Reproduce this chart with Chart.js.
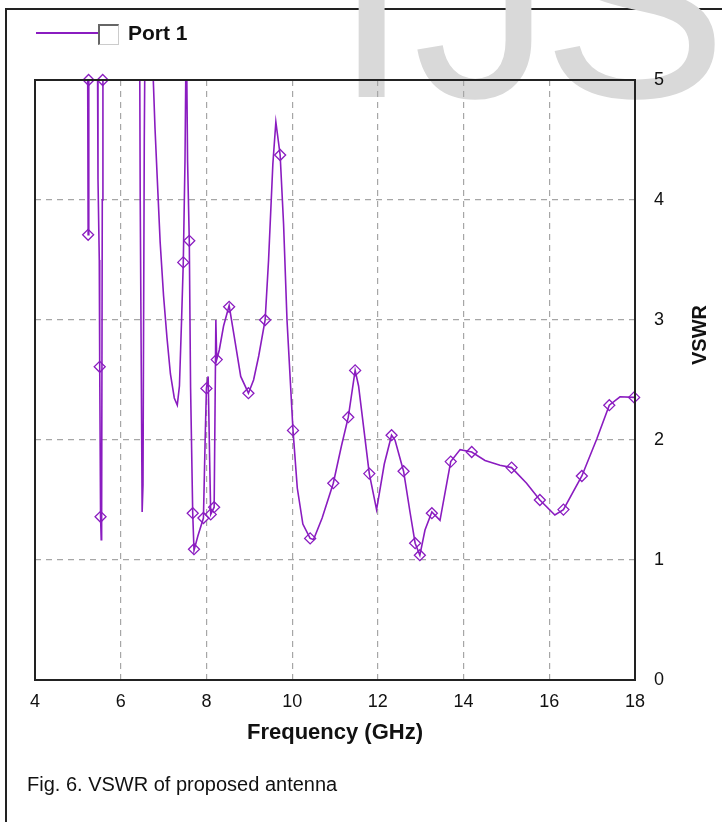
<!DOCTYPE html>
<html>
<head>
<meta charset="utf-8">
<script src="https://cdn.jsdelivr.net/npm/chart.js@4.4.1/dist/chart.umd.min.js"></script>
<style>
  html, body { margin: 0; padding: 0; background: #fff; }
  #wrap { position: relative; width: 722px; height: 822px; overflow: hidden;
          font-family: "Liberation Sans", Arial, sans-serif; }
  #frame { position: absolute; left: 5px; top: 8px; width: 760px; height: 860px;
           border-left: 2px solid #222; border-top: 2px solid #222; }
  .wm { position: absolute; top: -138px; font-size: 278px; line-height: 1; color: #d9d9d9; }
  #chart { position: absolute; left: 0; top: 0; }
  #legLine { position: absolute; left: 36px; top: 32px; width: 62px; height: 2px; background: #8a1cc0; }
  #legBox { position: absolute; left: 98px; top: 24px; width: 18px; height: 18px; background: #fff;
            border-top: 2px solid #666; border-left: 2px solid #666;
            border-right: 1px solid #ccc; border-bottom: 1px solid #ccc; }
  #legText { position: absolute; left: 128px; top: 21px; font-size: 21px; font-weight: bold; color: #111; }
  #caption { position: absolute; left: 27px; top: 773px; font-size: 20px; color: #111; }
</style>
</head>
<body>
<div id="wrap">
  <div id="frame"></div>
  <span class="wm" style="left:333px">I</span>
  <span class="wm" style="left:413px">J</span>
  <span class="wm" style="left:542px">S</span>
  <canvas id="chart" width="722" height="822"></canvas>
  <div id="legLine"></div>
  <div id="legBox"></div>
  <div id="legText">Port 1</div>
  <div id="caption">Fig. 6. VSWR of proposed antenna</div>
</div>
<script>
// frequency sweep (GHz) and VSWR; values above 5 run off the top
const freqGHz = [4.0, 5.20, 5.225, 5.24, 5.255, 5.28, 5.44, 5.455, 5.47, 5.50, 5.51, 5.53, 5.545, 5.555,
  5.57, 5.585, 5.61, 6.40, 6.44, 6.455, 6.50, 6.52, 6.55, 6.57, 6.60, 6.70, 6.76, 6.80, 6.85, 6.92,
  7.00, 7.08, 7.16, 7.25, 7.32, 7.37, 7.42, 7.46, 7.50, 7.53, 7.56, 7.60, 7.63, 7.68, 7.71, 7.80,
  7.93, 7.97, 8.00, 8.04, 8.08, 8.10, 8.18, 8.22, 8.24, 8.30, 8.40, 8.53, 8.65, 8.80, 8.98, 9.10,
  9.22, 9.37, 9.45, 9.55, 9.62, 9.72, 9.80, 9.88, 10.02, 10.12, 10.25, 10.42, 10.50, 10.70, 10.96,
  11.15, 11.31, 11.47, 11.55, 11.80, 11.97, 12.15, 12.32, 12.40, 12.60, 12.75, 12.87, 12.98, 13.10,
  13.26, 13.45, 13.70, 13.92, 14.19, 14.50, 14.85, 15.12, 15.47, 15.78, 16.13, 16.33, 16.76, 17.11,
  17.40, 17.65, 17.98, 18.0];
const vswr = [9, 9, 5.6, 3.71, 5.6, 9, 9, 5.5, 4.17, 3.5, 2.61, 1.36, 1.17, 1.4,
  4.0, 5.5, 9, 9, 5.5, 4.02, 1.40, 1.63, 4.5, 5.5, 9, 8, 5.0, 4.6, 4.2, 3.65,
  3.2, 2.85, 2.55, 2.35, 2.29, 2.45, 3.0, 3.48, 4.33, 5.5, 4.33, 3.66, 2.44, 1.39, 1.08, 1.20,
  1.35, 2.0, 2.43, 2.53, 1.75, 1.38, 1.44, 3.0, 2.67, 2.75, 2.95, 3.12, 2.86, 2.53, 2.39, 2.5,
  2.7, 3.0, 3.5, 4.3, 4.65, 4.375, 3.8, 3.0, 2.08, 1.6, 1.3, 1.18, 1.17, 1.35, 1.64,
  1.95, 2.19, 2.58, 2.45, 1.72, 1.42, 1.8, 2.04, 2.0, 1.74, 1.4, 1.14, 1.04, 1.25,
  1.40, 1.33, 1.82, 1.92, 1.90, 1.83, 1.79, 1.77, 1.64, 1.50, 1.375, 1.42, 1.70, 2.01,
  2.29, 2.36, 2.355, 2.355];

// marker (diamond) positions
const markerFreq = [5.25, 5.24, 5.58, 5.51, 5.53, 7.46, 7.60, 7.68, 7.71, 7.93, 8.00, 8.10, 8.18, 8.24,
  8.53, 8.98, 9.37, 9.72, 10.02, 10.42, 10.96, 11.31, 11.47, 11.80, 12.32, 12.60, 12.87, 12.98,
  13.26, 13.70, 14.19, 15.12, 15.78, 16.33, 16.76, 17.40, 17.98];
const markerVswr = [5.0, 3.71, 5.0, 2.61, 1.36, 3.48, 3.66, 1.39, 1.09, 1.35, 2.43, 1.38, 1.44, 2.67,
  3.11, 2.39, 3.0, 4.375, 2.08, 1.18, 1.64, 2.19, 2.58, 1.72, 2.04, 1.74, 1.14, 1.04,
  1.39, 1.82, 1.90, 1.77, 1.50, 1.42, 1.70, 2.29, 2.355];

const xTicks = [4, 6, 8, 10, 12, 14, 16, 18];
const yTicks = [0, 1, 2, 3, 4, 5];

const purple = '#8a1cc0';
const FONT = '"Liberation Sans", Arial, sans-serif';

// black box round the plot + rotated VSWR title
const framePlugin = {
  id: 'frame',
  afterDraw(chart) {
    const { ctx, chartArea: a } = chart;
    ctx.save();
    ctx.strokeStyle = '#222';
    ctx.lineWidth = 2;
    ctx.strokeRect(a.left, a.top, a.right - a.left, a.bottom - a.top);
    ctx.translate(700, 335);
    ctx.rotate(-Math.PI / 2);
    ctx.font = 'bold 20px ' + FONT;
    ctx.fillStyle = '#111';
    ctx.textAlign = 'center';
    ctx.textBaseline = 'middle';
    ctx.fillText('VSWR', 0, 0);
    ctx.restore();
  }
};

const gridOpts = { color: '#a6a6a6', lineWidth: 1.2, drawTicks: false };
const borderOpts = { display: false, dash: [6, 5] };

new Chart(document.getElementById('chart'), {
  type: 'line',
  data: {
    datasets: [
      {
        data: freqGHz.map((f, i) => ({ x: f, y: vswr[i] })),
        borderColor: purple,
        borderWidth: 1.6,
        pointRadius: 0,
        tension: 0
      },
      {
        data: markerFreq.map((f, i) => ({ x: f, y: markerVswr[i] })),
        showLine: false,
        pointStyle: 'rectRot',
        pointRadius: 5.5,
        pointBorderWidth: 1.3,
        pointBorderColor: purple,
        pointBackgroundColor: 'rgba(255,255,255,0)',
        clip: false
      }
    ]
  },
  options: {
    responsive: false,
    animation: false,
    layout: { padding: { left: 35, top: 80, right: 0, bottom: 0 } },
    plugins: { legend: { display: false }, tooltip: { enabled: false } },
    scales: {
      x: {
        type: 'linear',
        min: 4, max: 18,
        afterFit(s) { s.height = 142; },
        afterBuildTicks(s) { s.ticks = xTicks.map(v => ({ value: v })); },
        grid: gridOpts,
        border: borderOpts,
        ticks: { padding: 11, color: '#111', font: { family: FONT, size: 18 } },
        title: { display: true, text: 'Frequency (GHz)', color: '#111',
                 font: { family: FONT, size: 22, weight: 'bold' }, padding: { top: 0, bottom: 76 } }
      },
      y: {
        position: 'right',
        min: 0, max: 5,
        afterFit(s) { s.width = 87; },
        afterBuildTicks(s) { s.ticks = yTicks.map(v => ({ value: v })); },
        grid: gridOpts,
        border: borderOpts,
        ticks: { padding: 19, color: '#111', font: { family: FONT, size: 18 } }
      }
    }
  },
  plugins: [framePlugin]
});
</script>
</body>
</html>
